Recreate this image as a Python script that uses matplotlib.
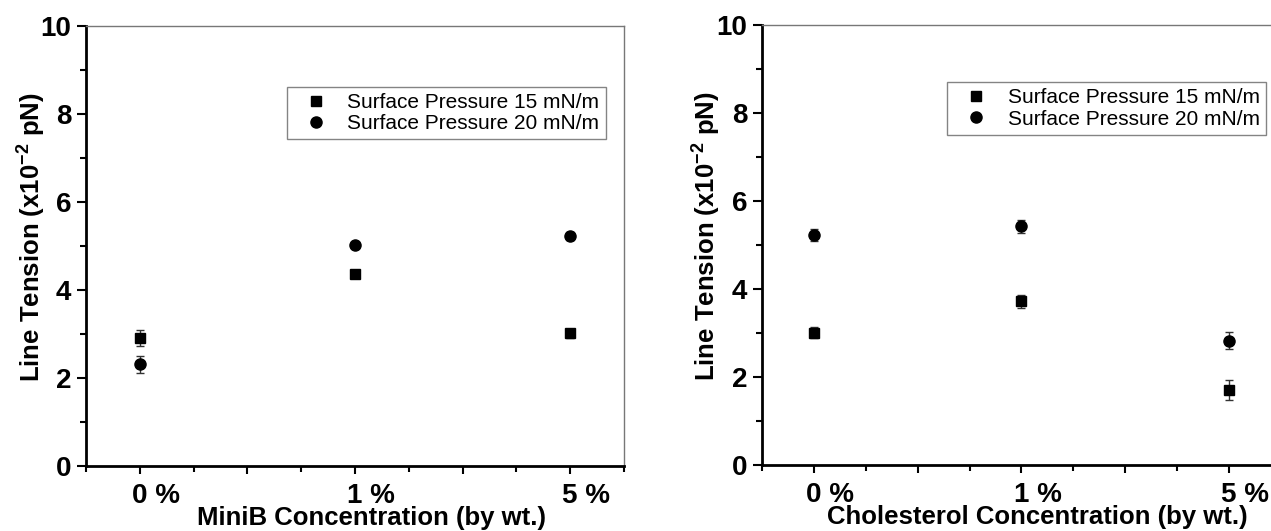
import numpy as np
import matplotlib
matplotlib.use("Agg")
import matplotlib.pyplot as plt
import matplotlib.transforms as mtransforms
from matplotlib.lines import Line2D
from matplotlib.ticker import MultipleLocator, FixedLocator

plt.rcParams['font.family'] = ['Liberation Sans', 'DejaVu Sans']
plt.rcParams['mathtext.fontset'] = 'custom'
plt.rcParams['mathtext.rm'] = 'Liberation Sans'
plt.rcParams['mathtext.bf'] = 'Liberation Sans:bold'

# concentrations on the category axis
conc_labels = ['0 %', '1 %', '5 %']
conc_pos = [1, 2, 3]

# MiniB series (x10^-2 pN)
minib_15 = [2.92, 4.37, 3.02]
minib_15_err = [0.18, 0.06, 0.10]
minib_20 = [2.31, 5.02, 5.23]
minib_20_err = [0.20, 0.06, 0.10]

# Cholesterol series (x10^-2 pN)
chol_15 = [3.01, 3.72, 1.70]
chol_15_err = [0.12, 0.15, 0.23]
chol_20 = [5.24, 5.43, 2.83]
chol_20_err = [0.14, 0.15, 0.20]

series_names = ['Surface Pressure 15 mN/m', 'Surface Pressure 20 mN/m']

fig = plt.figure(figsize=(12.71, 5.31), dpi=100)
ax1 = fig.add_axes([0.0677, 0.1224, 0.4233, 0.828])
ax2 = fig.add_axes([0.5995, 0.1243, 0.4083, 0.8277])


def panel(ax, y15, e15, y20, e20, xlabel, legend_anchor, ylab_x):
    ax.errorbar(conc_pos, y15, yerr=e15, fmt='s', color='black', ms=7.2,
                ecolor='#333333', elinewidth=1.0, capsize=3.2, capthick=1.0,
                zorder=3)
    ax.errorbar(conc_pos, y20, yerr=e20, fmt='o', color='black', ms=8,
                ecolor='#333333', elinewidth=1.0, capsize=3.2, capthick=1.0,
                zorder=3)
    ax.set_xlim(0.75, 3.25)
    ax.set_ylim(0, 10)
    ax.xaxis.set_major_locator(FixedLocator([1, 1.5, 2, 2.5, 3]))
    ax.xaxis.set_minor_locator(FixedLocator([0.75, 1.25, 1.75, 2.25, 2.75, 3.25]))
    ax.set_xticklabels([conc_labels[0], '', conc_labels[1], '', conc_labels[2]])
    ax.yaxis.set_major_locator(MultipleLocator(2))
    ax.yaxis.set_minor_locator(MultipleLocator(1))
    ax.tick_params(axis='both', which='major', direction='out', length=6.5,
                   width=1.5, labelsize=20, pad=4)
    ax.tick_params(axis='both', which='minor', direction='out', length=4,
                   width=1.5)
    ax.tick_params(axis='x', which='major', length=6, pad=6)
    for lab in ax.get_xticklabels() + ax.get_yticklabels():
        lab.set_fontweight('bold')
    # category labels sit a little to the right of their ticks
    shift = mtransforms.ScaledTranslation(16 / 100, 0, fig.dpi_scale_trans)
    for lab in ax.get_xticklabels():
        lab.set_transform(lab.get_transform() + shift)
    for s in ['left', 'bottom']:
        ax.spines[s].set_linewidth(2.0)
    for s in ['top', 'right']:
        ax.spines[s].set_linewidth(1.0)
        ax.spines[s].set_color('#777777')

    ax.set_ylabel('Line Tension (x10$^{\\mathbf{-2}}$ pN)', fontsize=18.5,
                  fontweight='bold')
    ax.yaxis.label.set_va('center')
    ax.yaxis.set_label_coords(ylab_x, 0.52)
    ax.set_xlabel(xlabel, fontsize=18.5, fontweight='bold')
    ax.xaxis.label.set_va('baseline')
    ax.xaxis.set_label_coords(0.53, -0.135)

    handles = [Line2D([], [], ls='none', marker='s', ms=7.2, color='black'),
               Line2D([], [], ls='none', marker='o', ms=8, color='black')]
    leg = ax.legend(handles, series_names, loc='upper left',
                    bbox_to_anchor=legend_anchor, fontsize=15,
                    frameon=True, fancybox=False, edgecolor='#666666',
                    handletextpad=0.4, borderpad=0.3, labelspacing=0.1,
                    handlelength=2.2, borderaxespad=0)
    leg.get_frame().set_linewidth(1.0)


panel(ax1, minib_15, minib_15_err, minib_20, minib_20_err,
      'MiniB Concentration (by wt.)', (0.3736, 0.863), -0.104)
panel(ax2, chol_15, chol_15_err, chol_20, chol_20_err,
      'Cholesterol Concentration (by wt.)', (0.357, 0.871), -0.108)

fig.savefig('out.png', dpi=100)
